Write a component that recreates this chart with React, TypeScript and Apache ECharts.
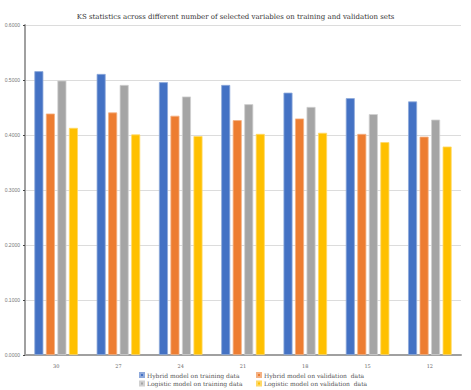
import React, { useEffect, useRef } from "react";
import * as echarts from "echarts";

const categories = ["30", "27", "24", "21", "18", "15", "12"];
const hybridTrain = [0.516, 0.511, 0.496, 0.491, 0.477, 0.467, 0.461];
const hybridVal = [0.439, 0.441, 0.435, 0.427, 0.430, 0.402, 0.397];
const logisticTrain = [0.499, 0.491, 0.470, 0.456, 0.451, 0.438, 0.428];
const logisticVal = [0.413, 0.401, 0.398, 0.402, 0.404, 0.387, 0.379];

const seriesNames = [
  "Hybrid model on training data",
  "Hybrid model on validation  data",
  "Logistic model on training data",
  "Logistic model on validation  data",
];
const colors = ["#4472C4", "#ED7D31", "#A5A5A5", "#FFC000"];
const borders = ["#8EA9DB", "#F4B183", "#D0D0D0", "#FFD966"];

export default function App() {
  const ref = useRef<HTMLDivElement>(null);
  useEffect(() => {
    if (!ref.current) return;
    const chart = echarts.init(ref.current, undefined, { renderer: "svg" });
    const data = [hybridTrain, hybridVal, logisticTrain, logisticVal];
    const serif = "'DejaVu Serif', 'Liberation Serif', serif";
    const legendText = { fontFamily: serif, fontSize: 6, color: "#555", padding: [0, 0, 0, -2] };
    chart.setOption({
      animation: false,
      backgroundColor: "#ffffff",
      title: {
        text: "KS statistics across different number of selected variables on training and validation sets",
        left: "center",
        top: 8,
        textStyle: { fontFamily: serif, fontSize: 7, fontWeight: "normal", color: "#333" },
      },
      legend: [
        {
          data: [seriesNames[0], seriesNames[2]],
          orient: "vertical",
          left: 139,
          top: 372,
          itemWidth: 4,
          itemHeight: 4,
          itemGap: 2.5,
          icon: "rect",
          textStyle: legendText,
          padding: 0,
        },
        {
          data: [seriesNames[1], seriesNames[3]],
          orient: "vertical",
          left: 256,
          top: 372,
          itemWidth: 4,
          itemHeight: 4,
          itemGap: 2.5,
          icon: "rect",
          textStyle: legendText,
          padding: 0,
        },
      ],
      grid: { left: 25, right: 10, top: 25, bottom: 35, containLabel: false },
      xAxis: {
        type: "category",
        data: categories,
        axisLine: { lineStyle: { color: "#a0a0a0", width: 2 } },
        axisTick: { show: false },
        axisLabel: { fontSize: 5, color: "#666", margin: 8, fontFamily: serif },
      },
      yAxis: {
        type: "value",
        min: 0,
        max: 0.6,
        interval: 0.1,
        axisLine: { show: true, lineStyle: { color: "#a0a0a0", width: 2 } },
        axisTick: { show: true, length: 2, lineStyle: { color: "#444" } },
        axisLabel: {
          fontSize: 5,
          color: "#777",
          margin: 5,
          formatter: (v: number) => v.toFixed(4),
        },
        splitLine: { lineStyle: { color: "#dcdcdc", width: 1 } },
      },
      series: data.map((d, i) => ({
        name: seriesNames[i],
        type: "bar",
        data: d,
        barWidth: 9,
        barGap: "28%",
        barCategoryGap: "31%",
        itemStyle: { color: colors[i], borderColor: borders[i], borderWidth: 0.8 },
      })),
    });
    return () => chart.dispose();
  }, []);
  return (
    <div
      ref={ref}
      style={{ position: "fixed", left: 0, top: 0, width: 471, height: 390 }}
    />
  );
}
